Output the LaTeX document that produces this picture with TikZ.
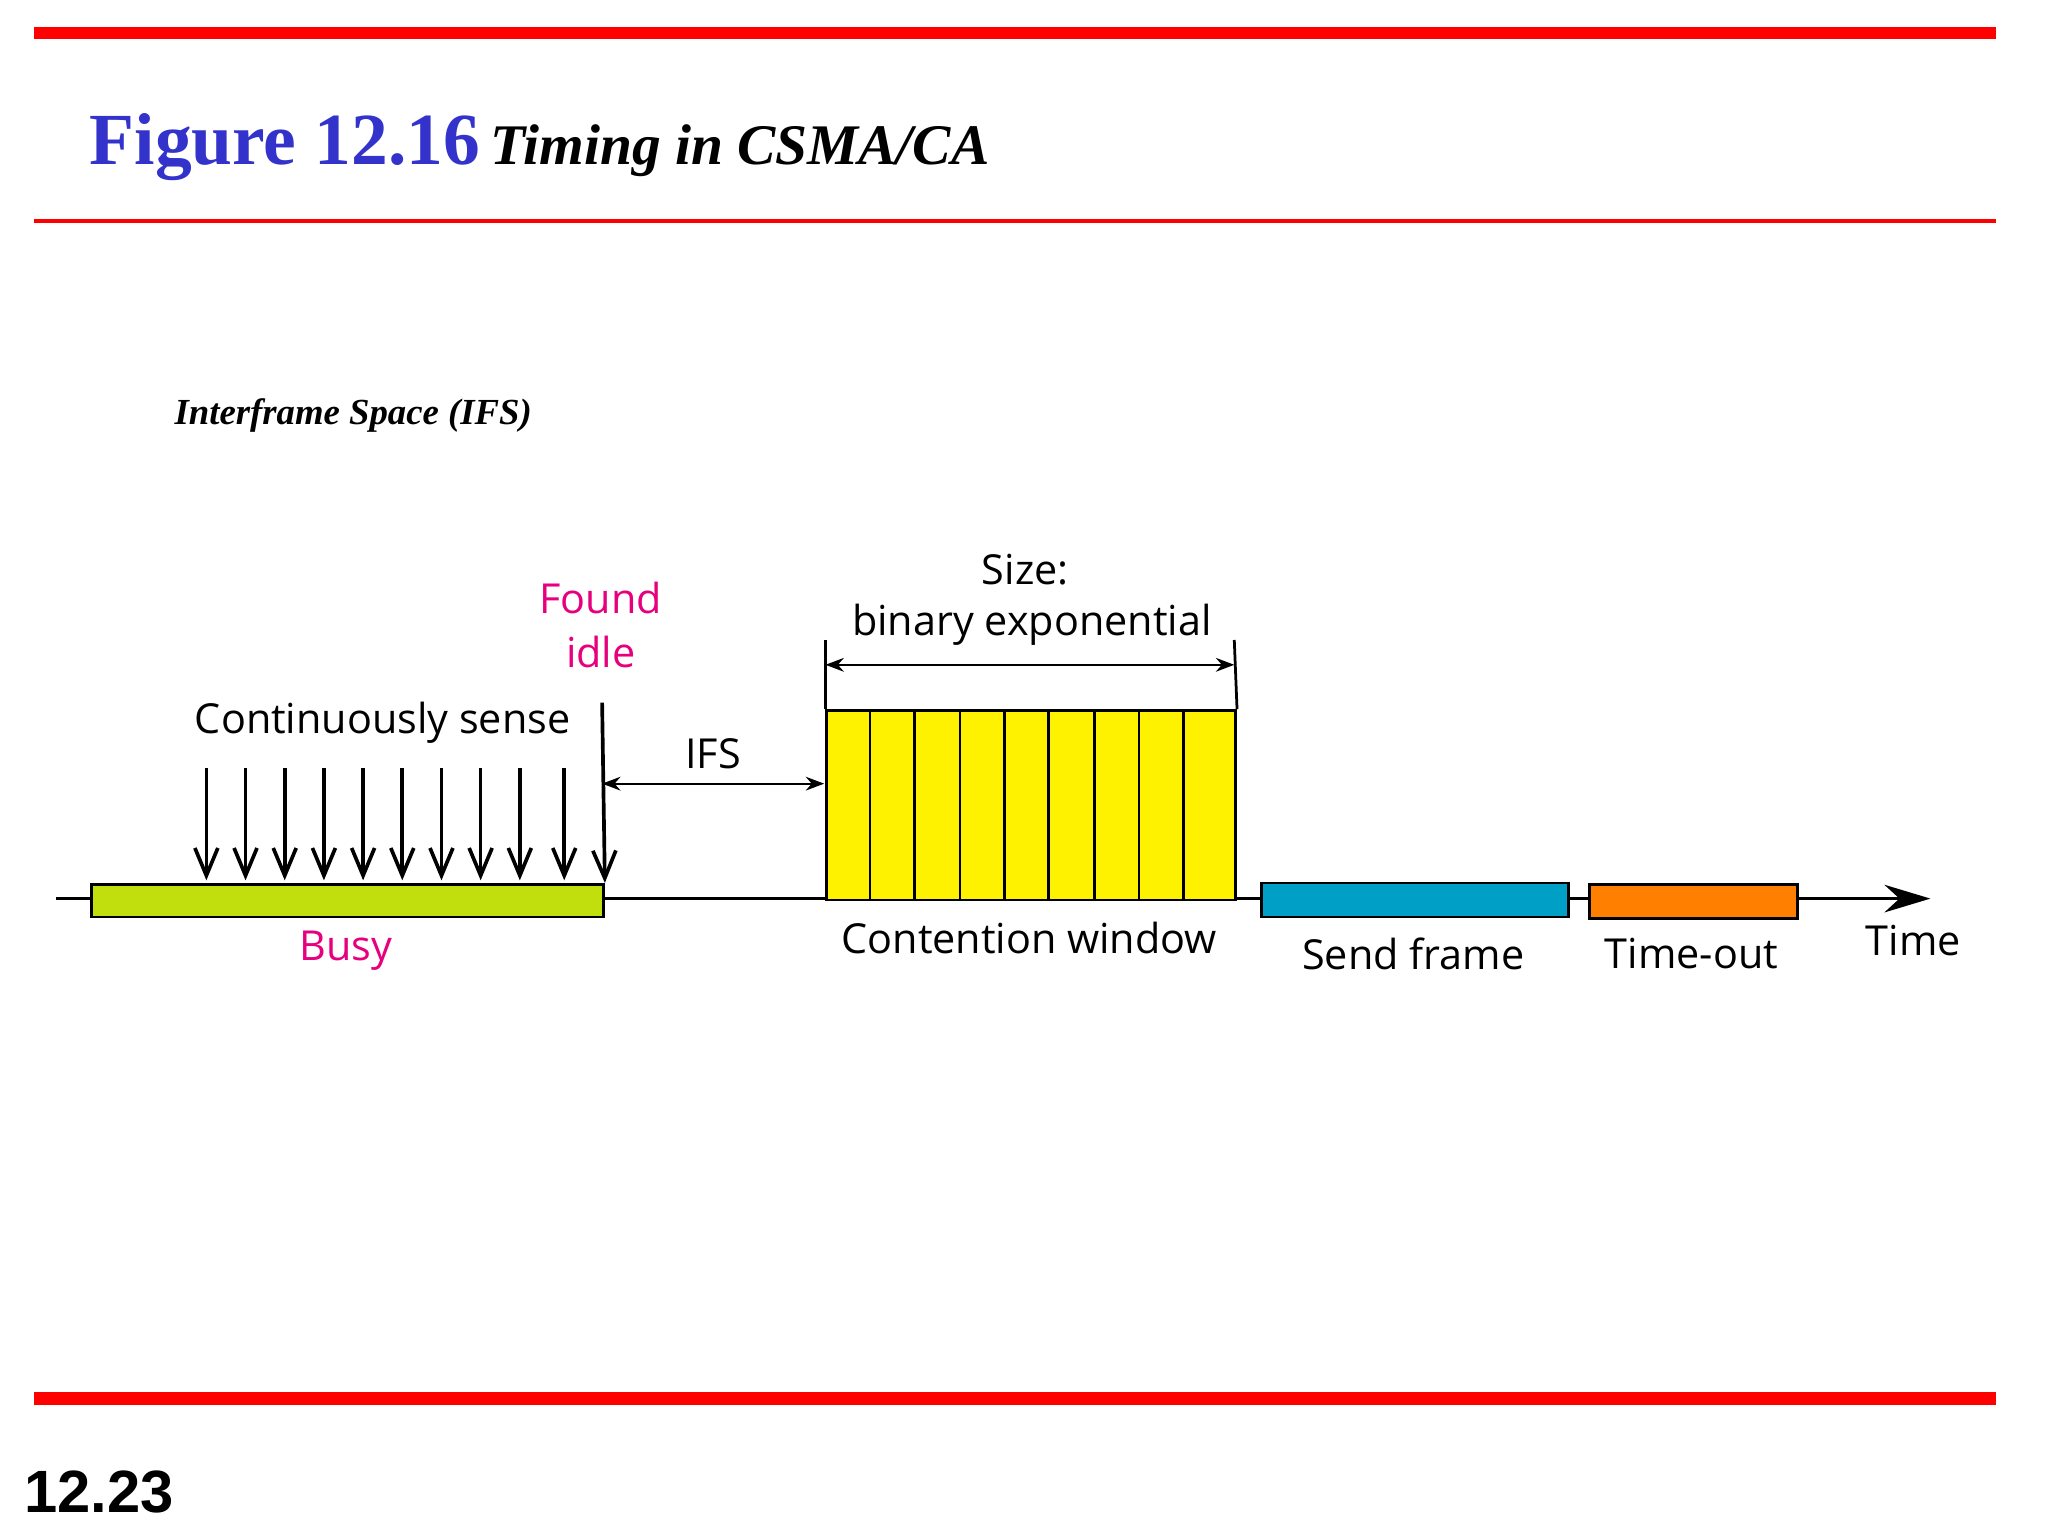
\documentclass[tikz,border=0pt]{standalone}
\usepackage{fontspec}
\setmainfont{Liberation Serif}
\newfontfamily\lab{Open Sans}
\newfontfamily\hsans{Liberation Sans}
\usetikzlibrary{arrows.meta}
\definecolor{busyg}{RGB}{192,223,12}
\definecolor{sendb}{RGB}{0,160,198}
\definecolor{toorg}{RGB}{255,128,0}
\definecolor{mag}{RGB}{230,0,126}
\definecolor{tblue}{RGB}{51,51,204}
\tikzset{lbl/.style={font=\lab\fontsize{9}{11}\selectfont,inner sep=0pt},
 bar/.style={draw=black,line width=0.6pt},
 sense/.style={-{Straight Barb[length=6pt,width=5pt]},line width=0.8pt},
 dim/.style={{Stealth[length=4pt]}-{Stealth[length=4pt]},line width=0.5pt}}
\begin{document}
\begin{tikzpicture}[x=0.01cm,y=-0.01cm]
\useasboundingbox (0,0) rectangle (1568,1176);
\fill[red] (26,21) rectangle (1528,30);
\draw[red,line width=0.8pt] (26,169) -- (1528,169);
\fill[red] (26,1066) rectangle (1528,1076);
\node[anchor=base west,inner sep=0pt,text=tblue,font=\bfseries\fontsize{16}{18}\selectfont] (fig) at (68,126) {Figure 12.16};
\node[anchor=base west,inner sep=0pt,font=\bfseries\itshape\fontsize{12.5}{14}\selectfont] (tit) at (375,126) {Timing in CSMA/CA};
\node[anchor=base west,inner sep=0pt,font=\bfseries\itshape\fontsize{8}{10}\selectfont] (ifs0) at (133,325) {Interframe Space (IFS)};
\node[anchor=base west,inner sep=0pt,font=\hsans\bfseries\fontsize{13}{15}\selectfont] (pg) at (18,1158) {12.23};
% timeline
\coordinate (t0) at (43,688); \coordinate (t1) at (1478,688);
\draw[line width=0.8pt,-{Stealth[length=10pt,width=6pt]}] (t0) -- (t1);
\node[bar,fill=busyg,anchor=north west,minimum width=392*0.01cm,minimum height=25*0.01cm,inner sep=0pt] (busy) at (69,676) {};
\node[bar,fill=yellow,anchor=north west,minimum width=313*0.01cm,minimum height=145*0.01cm,inner sep=0pt] (cw) at (632,543) {};
\foreach \x in {666,700,735,769,803,838,872,906} \draw[line width=0.6pt] (\x,543) -- (\x,688);
\node[bar,fill=sendb,anchor=north west,minimum width=235*0.01cm,minimum height=26*0.01cm,inner sep=0pt] (send) at (965,675) {};
\node[bar,fill=toorg,anchor=north west,minimum width=159*0.01cm,minimum height=26*0.01cm,inner sep=0pt] (to) at (1216,676) {};
% sense arrows
\foreach \x in {158,188,218,248,278,308,338,368,398,432} \draw[sense] (\x,588) -- (\x,674);
\coordinate (fi) at (461,538);
\draw[sense] (fi) -- (busy.north east);
% IFS
\coordinate (ia) at (461,600); \coordinate (ib) at (631,600);
\draw[dim] (ia) -- (ib);
\node[lbl] (ifsl) at (546,577) {IFS};
% size
\draw[line width=0.6pt] (632,490) -- (cw.north west);
\draw[line width=0.6pt] (945,490) -- (cw.north east);
\coordinate (sa) at (632,509); \coordinate (sb) at (945,509);
\draw[dim] (sa) -- (sb);
\node[lbl] (sz) at (785,436) {Size:};
\node[lbl] (be) at (790,478) {binary exponential};
\node[lbl] (cs) at (293,553) {Continuously sense};
\node[lbl,text=mag] (f1) at (460,458) {Found};
\node[lbl,text=mag] (f2) at (460,499) {idle};
\node[lbl,text=mag] (bl) at (265,728) {Busy};
\node[lbl] (cwl) at (788,718) {Contention window};
\node[lbl] (sfl) at (1082,730) {Send frame};
\node[lbl] (tol) at (1295,730) {Time-out};
\node[lbl] (tml) at (1465,720) {Time};
\end{tikzpicture}
\end{document}
